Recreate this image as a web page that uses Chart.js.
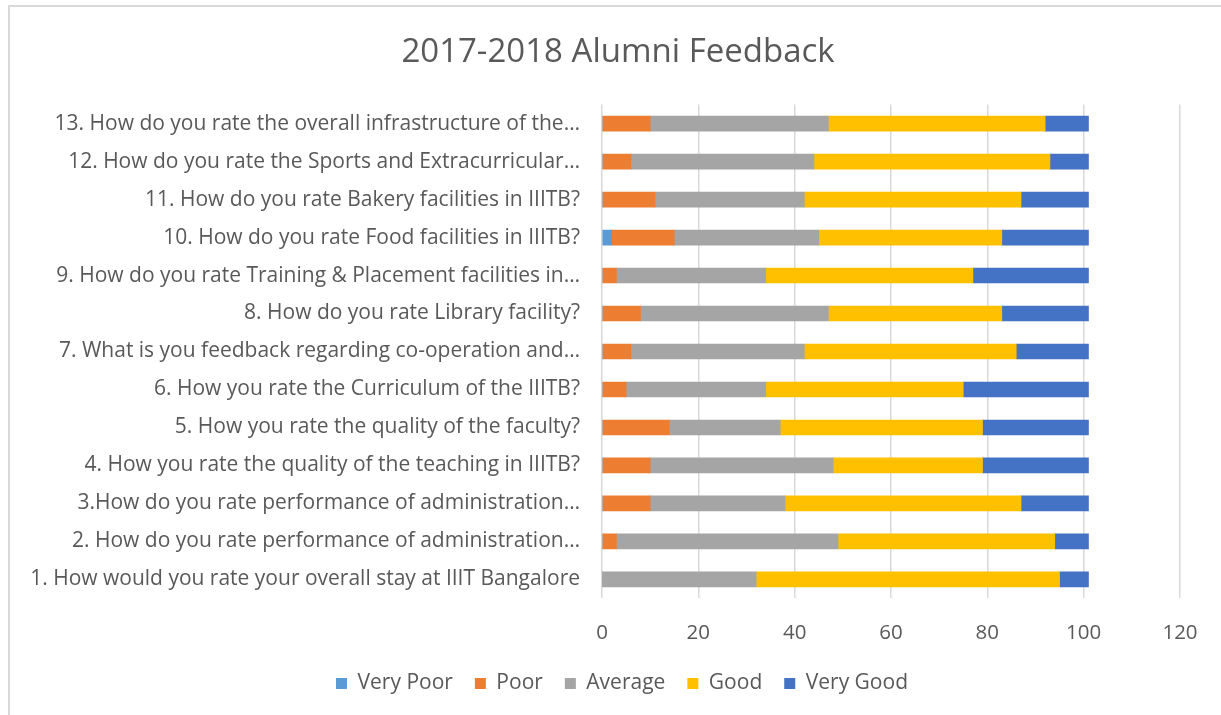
<!DOCTYPE html>
<html>
<head>
<meta charset="utf-8">
<script src="https://cdn.jsdelivr.net/npm/chart.js@4/dist/chart.umd.min.js"></script>
<style>
  body { margin: 0; background: #fff; }
  #wrap { position: relative; width: 1221px; height: 715px; }
  #frame { position: absolute; left: 8px; top: 5px; right: -10px; bottom: -10px; border-left: 2px solid #d9d9d9; border-top: 2px solid #d9d9d9; pointer-events: none; }
</style>
</head>
<body>
<div id="wrap">
  <canvas id="myChart" width="1221" height="715"></canvas>
  <div id="frame"></div>
</div>
<script>
const questions = [
  "1. How would you rate your overall stay at IIIT Bangalore",
  "2. How do you rate performance of administration\u2026",
  "3.How do you rate performance of administration\u2026",
  "4. How you rate the quality of the teaching in IIITB?",
  "5. How you rate the quality of the faculty?",
  "6. How you rate the Curriculum of the IIITB?",
  "7. What is you feedback regarding co-operation and\u2026",
  "8. How do you rate Library facility?",
  "9. How do you rate Training & Placement facilities in\u2026",
  "10. How do you rate Food facilities in IIITB?",
  "11. How do you rate Bakery facilities in IIITB?",
  "12. How do you rate the Sports and Extracurricular\u2026",
  "13. How do you rate the overall infrastructure of the\u2026"
];
const veryPoor = [0, 0, 0, 0, 0, 0, 0, 0, 0, 2, 0, 0, 0];
const poor     = [0, 3, 10, 10, 14, 5, 6, 8, 3, 13, 11, 6, 10];
const average  = [32, 46, 28, 38, 23, 29, 36, 39, 31, 30, 31, 38, 37];
const good     = [63, 45, 49, 31, 42, 41, 44, 36, 43, 38, 45, 49, 45];
const veryGood = [6, 7, 14, 22, 22, 26, 15, 18, 24, 18, 14, 8, 9];
const xTicks = [0, 20, 40, 60, 80, 100, 120];

const textColor = '#595959';
const fontName = '"Open Sans", Lato, sans-serif';

function series(label, data, color) {
  return { label: label, data: data, backgroundColor: color, borderWidth: 0, barThickness: 15 };
}

// title and legend sit a bit right of the canvas centre in the original
const shiftBlocks = {
  id: 'shiftBlocks',
  afterLayout(chart) {
    chart.legend.left += 22;
    chart.legend.right += 22;
    chart.titleBlock.left += 18;
    chart.titleBlock.right += 18;
  }
};

const ctx = document.getElementById('myChart');
new Chart(ctx, {
  type: 'bar',
  data: {
    labels: questions,
    datasets: [
      series('Very Poor', veryPoor, '#5B9BD5'),
      series('Poor', poor, '#ED7D31'),
      series('Average', average, '#A5A5A5'),
      series('Good', good, '#FFC000'),
      series('Very Good', veryGood, '#4472C4')
    ]
  },
  plugins: [shiftBlocks],
  options: {
    indexAxis: 'y',
    responsive: false,
    animation: false,
    layout: { padding: { left: 20, right: 41, top: 0, bottom: 11 } },
    plugins: {
      title: {
        display: true,
        text: '2017-2018 Alumni Feedback',
        color: textColor,
        font: { family: fontName, size: 33, weight: 'normal' },
        padding: { top: 33, bottom: 32 }
      },
      legend: {
        position: 'bottom',
        labels: {
          color: textColor,
          font: { family: fontName, size: 21 },
          boxWidth: 11,
          boxHeight: 11,
          padding: 22
        }
      },
      tooltip: { enabled: false }
    },
    scales: {
      x: {
        stacked: true,
        min: 0,
        max: 120,
        afterBuildTicks: axis => { axis.ticks = xTicks.map(v => ({ value: v })); },
        afterFit: axis => { axis.height -= 16; },
        grid: { color: '#d9d9d9', lineWidth: 1.5, drawTicks: false },
        border: { display: false },
        ticks: { color: textColor, font: { family: fontName, size: 20.5 }, padding: 22 }
      },
      y: {
        stacked: true,
        reverse: true,
        grid: { display: false, drawTicks: false },
        border: { display: false },
        afterFit: axis => { axis.width = 582; },
        ticks: { color: textColor, font: { family: fontName, size: 21 }, padding: 22, autoSkip: false }
      }
    }
  }
});
</script>
</body>
</html>
